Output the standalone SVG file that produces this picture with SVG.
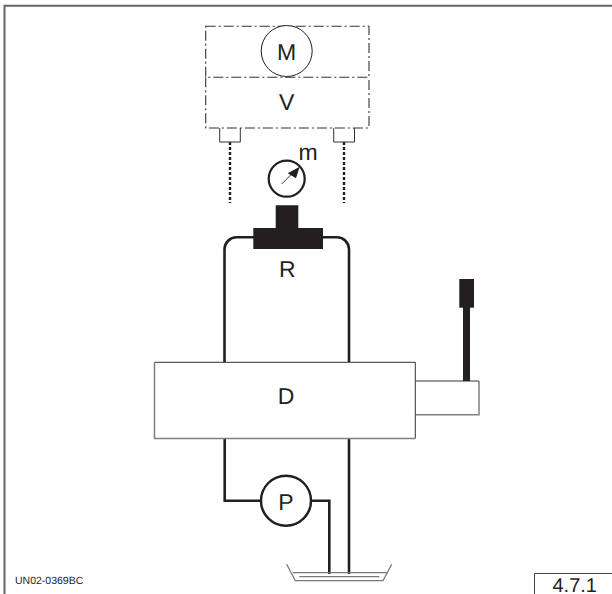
<svg xmlns="http://www.w3.org/2000/svg" width="612" height="594" viewBox="0 0 612 594">
<style>
text{font-family:"Liberation Sans",Arial,sans-serif;fill:#231f20;text-anchor:middle;text-rendering:geometricPrecision}
.l{font-size:23px}
.thin{fill:none;stroke:#333;stroke-width:1}
.dd{fill:none;stroke:#333;stroke-width:1.100;stroke-dasharray:10 3 2 3}
.pipe{fill:none;stroke:#231f20;stroke-width:2.600}
.dot{fill:none;stroke:#231f20;stroke-width:2.400;stroke-dasharray:3 2}
.dark{fill:none;stroke:#333;stroke-width:1}
.grey{fill:none;stroke:#808080;stroke-width:1.500}
.tank{fill:none;stroke:#777;stroke-width:1.300}
.c{fill:#fff;stroke:#231f20}
</style>
<rect width="612" height="594" fill="#fff"/>
<g id="frame"><path d="M4.500 594V5.700H612" fill="none" stroke="#666" stroke-width="2"/></g>
<g id="connectors">
<path class="pipe" d="M224.500 362V249A12 12 0 0 1 236.500 237.300H256M322 237.300H337A12 12 0 0 1 349 249V362"/>
<path class="pipe" d="M224.700 438V500.700H262M311 500.700H329.300V574"/>
<path class="pipe" d="M349 438V574"/>
<path class="dot" d="M230 142V203M344 142V203"/>
</g>
<g id="M"><rect class="dd" x="205.700" y="26.200" width="163.300" height="51"/><circle class="c" cx="286.700" cy="51" r="25.500" stroke-width="1"/><text class="l" x="286.700" y="60">M</text></g>
<g id="V"><path class="dd" d="M205.700 77.200V128H369V77.200"/><text class="l" x="286.700" y="110">V</text>
<path class="thin" d="M219.700 128V142H240.300V128M333.700 128V142H354.500V128"/></g>
<g id="m"><circle class="c" cx="286.700" cy="178.700" r="18" stroke-width="2.200"/><path class="thin" d="M281.700 184L292 173.700"/><path d="M299.700 166.700L296 178.300L287.700 173.300Z" fill="#231f20"/><text class="l" x="308" y="159.500">m</text></g>
<g id="R"><path d="M275.700 205.300H298.300V228H323V249H253.300V228H275.700Z" fill="#231f20"/><text class="l" x="287.300" y="276.700">R</text></g>
<g id="actuator"><path class="dark" d="M415.500 381H479"/><path class="grey" d="M479 381V414.700H415.500"/><rect x="463" y="305" width="7" height="76" fill="#231f20"/><rect x="459.300" y="279" width="14.700" height="28.700" fill="#231f20"/></g>
<g id="D"><path class="dark" d="M154.500 362.300H415.300V438.500"/><path class="grey" d="M415.300 438.500H154.500V362.300"/><text class="l" x="286" y="404">D</text></g>
<g id="P"><circle class="c" cx="286" cy="500.700" r="25" stroke-width="2.400"/><text class="l" x="286" y="510">P</text></g>
<g id="tank"><path class="tank" d="M286.700 564.300L295.300 580.700H383L391.700 564.300M299.300 576.700H379.300M292.700 572.700H388"/></g>
<text x="15" y="584" font-size="10.500px" style="text-anchor:start">UN02-0369BC</text>
<g id="ref"><path d="M534.500 594V573.500H612" fill="none" stroke="#444" stroke-width="1"/><text x="574.700" y="592" font-size="20px">4.7.1</text></g>
</svg>
